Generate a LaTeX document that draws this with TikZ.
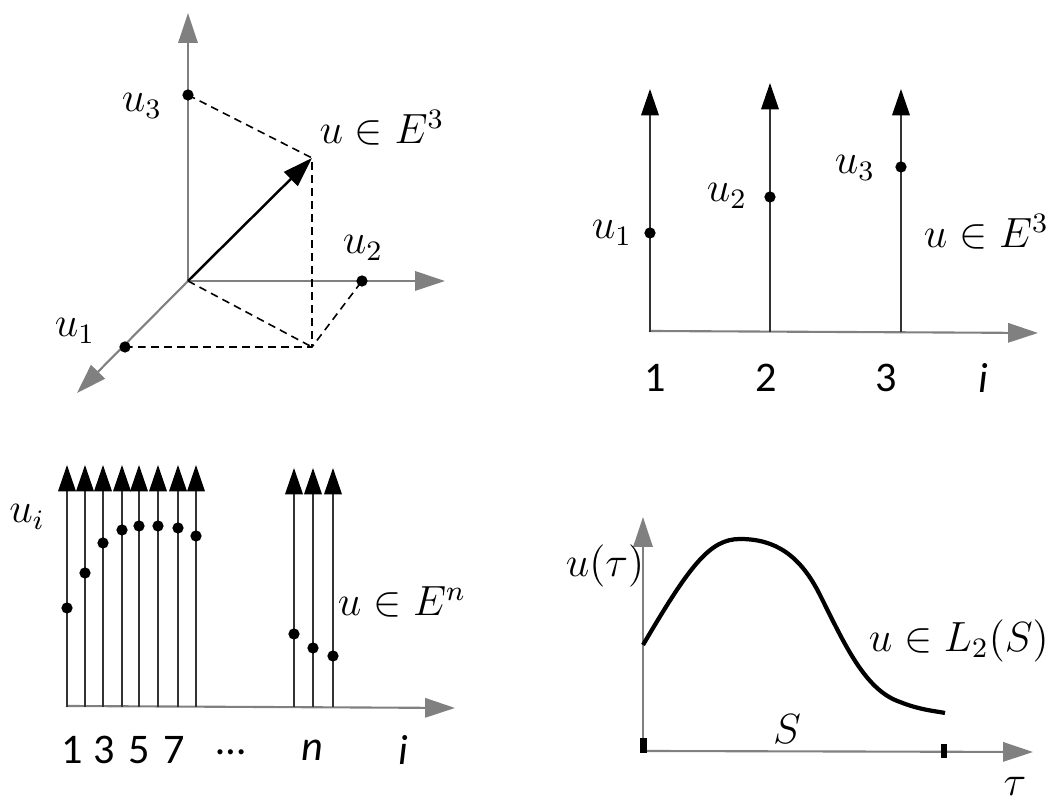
\documentclass[tikz,border=0pt]{standalone}
\usepackage{amsmath}
\usepackage{amssymb}
\usepackage{fontspec}
\newfontfamily\numfont{Carlito}
\usetikzlibrary{arrows.meta}
\tikzset{
  axis/.style={draw=gray, line width=0.6pt, -{Triangle[length=8.5pt,width=5.5pt]}, gray},
  stem/.style={draw=black!80, line width=0.5pt, -{Triangle[length=7.5pt,width=5pt,fill=black,color=black]}},
  vec/.style={draw=black, line width=0.7pt, -{Triangle[length=8.5pt,width=5.5pt]}},
  dot/.style={circle, fill=black, inner sep=0pt, minimum size=3.2pt},
  guide/.style={dash pattern=on 2.2pt off 1.5pt, line width=0.45pt},
  lab/.style={font=\fontsize{11.5}{14}\selectfont},
  num/.style={font=\numfont\fontsize{12}{14}\selectfont},
}

\begin{document}
\begin{tikzpicture}[x=0.01cm, y=-0.01cm]
\useasboundingbox (0,0) rectangle (1053,801);

% vector in E^3
\coordinate (o) at (188,281);
\coordinate (zt) at (188,13);
\coordinate (yt) at (445,281);
\coordinate (xt) at (77,393);
\coordinate (tip) at (312,158);
\coordinate (foot) at (312,347);
\draw[axis] (o) -- (zt);
\draw[axis] (o) -- (yt);
\draw[axis] (o) -- (xt);
\node[dot] (a3) at (188,95) {};
\node[dot] (a2) at (362,281) {};
\node[dot] (a1) at (125,347) {};
\draw[guide] (a3.center) -- (tip) -- (foot);
\draw[guide] (o) -- (foot);
\draw[guide] (a1.center) -- (foot) -- (a2.center);
\draw[vec] (o) -- (tip);
\node[lab] (la3) at (142,106) {$u_3$};
\node[lab] (la2) at (363,248) {$u_2$};
\node[lab] (la1) at (75,331) {$u_1$};
\node[lab] (le3) at (382,128) {$u\in E^3$};

% components over i
\coordinate (io) at (649,331);
\coordinate (ie) at (1038,333);
\draw[axis] (io) -- (ie);
\foreach \x/\t/\v [count=\k] in {650/89/233, 770/83/197, 901/89/167} {
  \coordinate (s\k) at (\x,332);
  \coordinate (st\k) at (\x,\t);
  \draw[stem] (s\k) -- (st\k);
  \node[dot] (c\k) at (\x,\v) {};
}
\node[lab] (lc1) at (612,233) {$u_1$};
\node[lab] (lc2) at (727,196) {$u_2$};
\node[lab] (lc3) at (855,168) {$u_3$};
\node[lab, anchor=east, inner sep=1pt] (lce) at (1053,232) {$u\in E^3$};
\node[num] (n1) at (655,378) {1};
\node[num] (n2) at (766,378) {2};
\node[num] (n3) at (886,378) {3};
\node[num] (ni) at (983,378) {\itshape i};

% components in E^n
\coordinate (jo) at (66,706);
\coordinate (je) at (455,708);
\draw[axis] (jo) -- (je);
\foreach \x/\t/\v [count=\k] in {67/465/608, 85/465/573, 103/465/543, 122/465/530,
    139/465/526, 158/465/526, 178/465/528, 196/465/536,
    294/468/634, 313/468/648, 333/468/656} {
  \coordinate (b\k) at (\x,707);
  \coordinate (bt\k) at (\x,\t);
  \draw[stem] (b\k) -- (bt\k);
  \node[dot] (d\k) at (\x,\v) {};
}
\node[lab] (lui) at (27,517) {$u_i$};
\node[lab] (len) at (402,602) {$u\in E^n$};
\node[num] (m1) at (72,750) {1};
\node[num] (m3) at (104,750) {3};
\node[num] (m5) at (139,750) {5};
\node[num] (m7) at (174,750) {7};
\node[num] (mdots) at (231,752) {…};
\node[num] (mn) at (312,750) {\itshape n};
\node[num] (mi) at (403,750) {\itshape i};

% function on S
\coordinate (fo) at (643,751);
\coordinate (ft) at (643,517);
\coordinate (fe) at (1033,752);
\draw[axis] (fo) -- (ft);
\draw[axis] (fo) -- (fe);
\fill (640,738) rectangle (647,753);
\fill (941,744) rectangle (947,758);
\draw[line width=1.2pt] (643,645) .. controls (690,565) and (710,539) .. (740,539)
  .. controls (775,539) and (800,555) .. (820,595)
  .. controls (845,645) and (865,690) .. (900,702)
  .. controls (920,710) and (935,711) .. (945,713);
\node[lab] (lf) at (605,566) {$u(\tau)$};
\node[lab] (ls) at (787,729) {$S$};
\node[lab, anchor=east, inner sep=1pt] (ll) at (1053,641) {$u\in L_2(S)$};
\node[lab] (lt) at (1015,786) {$\tau$};
\end{tikzpicture}
\end{document}
